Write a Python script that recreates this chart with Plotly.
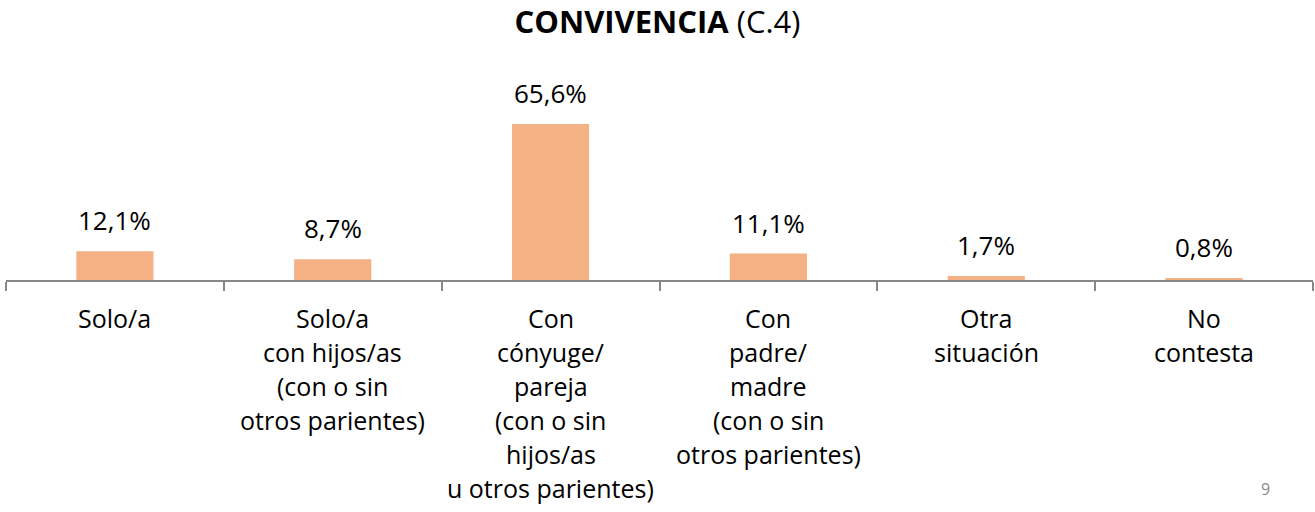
import plotly.graph_objects as go

# data
categories = ["Solo/a", "Solo/a con hijos", "Con cónyuge", "Con padre/madre", "Otra situación", "No contesta"]
tick_labels = [
    ["Solo/a"],
    ["Solo/a", "con hijos/as", "(con o sin", "otros parientes)"],
    ["Con", "cónyuge/", "pareja", "(con o sin", "hijos/as", "u otros parientes)"],
    ["Con", "padre/", "madre", "(con o sin", "otros parientes)"],
    ["Otra", "situación"],
    ["No", "contesta"],
]
values = [12.1, 8.7, 65.6, 11.1, 1.7, 0.8]
value_labels = ["12,1%", "8,7%", "65,6%", "11,1%", "1,7%", "0,8%"]

BAR_COLOR = "#F4B183"
AXIS_COLOR = "#878787"
FONT = "Open Sans"

fig = go.Figure()
fig.add_trace(go.Bar(x=categories, y=values, marker_color=BAR_COLOR,
                     marker_line_width=0, hoverinfo="skip"))

annotations = []
# value labels above bars
for cat, v, lab in zip(categories, values, value_labels):
    annotations.append(dict(x=cat, y=v, xref="x", yref="y", text=lab, showarrow=False,
                            yanchor="middle", yshift=31,
                            font=dict(family=FONT, size=26, color="#000000")))
# category labels, one line at a time to get the wide line spacing
for cat, lines in zip(categories, tick_labels):
    for i, line in enumerate(lines):
        annotations.append(dict(x=cat, y=0, xref="x", yref="y", text=line, showarrow=False,
                                yanchor="middle", yshift=-(38 + 34 * i),
                                font=dict(family=FONT, size=25, color="#000000")))
# page number
annotations.append(dict(x=(1266 - 6) / 1307, y=-(490 - 280) / 180, xref="paper", yref="paper",
                        text="9", showarrow=False, xshift=6, yshift=-12,
                        font=dict(family=FONT, size=16, color="#8a8a8a")))

fig.update_layout(
    width=1315, height=512,
    margin=dict(l=6, r=2, t=100, b=232),
    paper_bgcolor="white", plot_bgcolor="white",
    bargap=0.646,
    showlegend=False,
    title=dict(text="<b>CONVIVENCIA</b> (C.4)", x=0.5, xanchor="center", y=1 - 22 / 512, yanchor="middle",
               font=dict(family=FONT, size=31, color="#000000")),
    annotations=annotations,
    xaxis=dict(showline=True, linecolor=AXIS_COLOR, linewidth=2, showticklabels=False,
               ticks="outside", tickson="boundaries", ticklen=9, tickcolor=AXIS_COLOR, tickwidth=2,
               showgrid=False, zeroline=False, fixedrange=True),
    yaxis=dict(visible=False, range=[0, 75.7], fixedrange=True),
)

fig.write_html("out.html", config={"displayModeBar": False},
               post_script="document.body.style.margin='0';")
